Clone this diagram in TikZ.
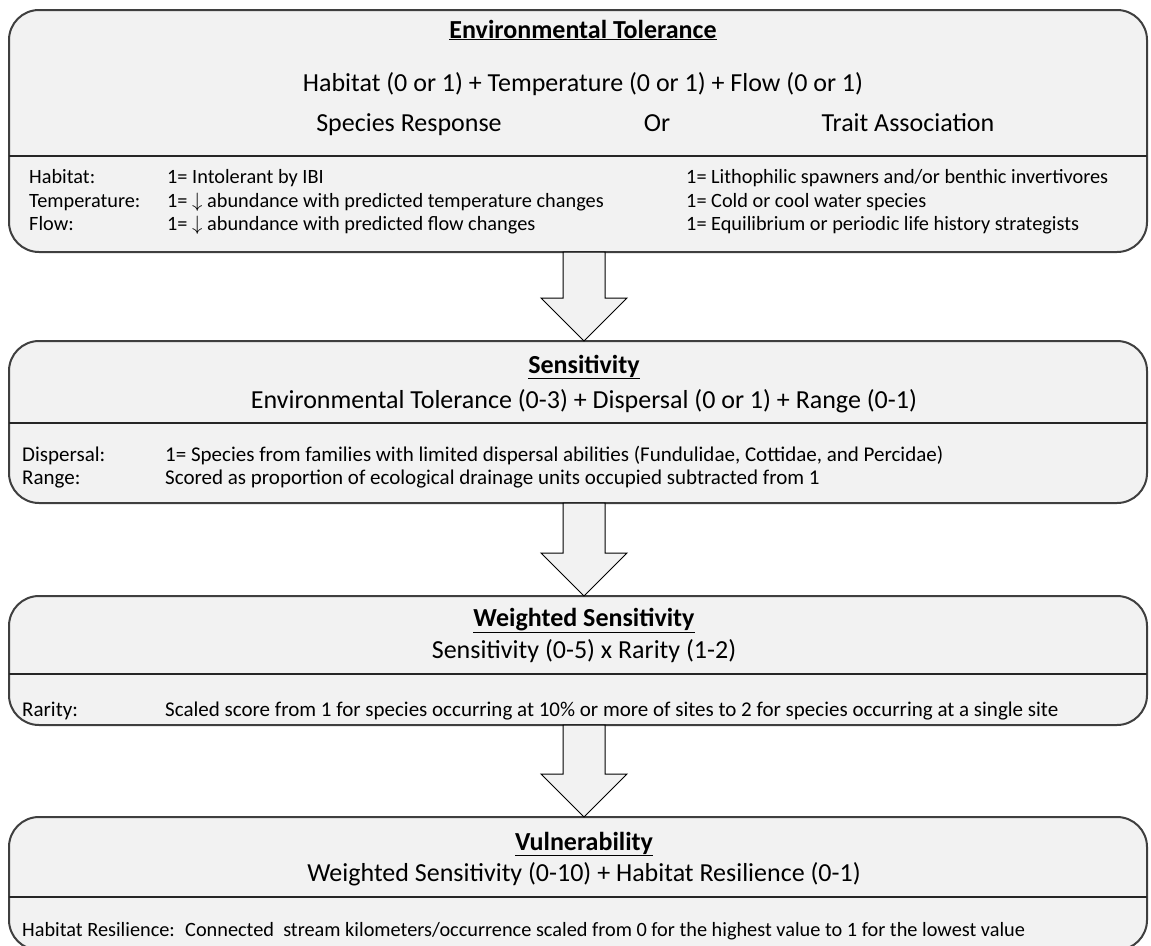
\documentclass[tikz,border=0pt]{standalone}
\usepackage{fontspec}
\setmainfont{Carlito}
\usepackage{tikz}
\definecolor{boxfill}{HTML}{F2F2F2}
\definecolor{boxline}{HTML}{3F3F3F}
\tikzstyle{stage}=[draw=boxline, line width=2pt, fill=boxfill, rounded corners=30pt,
                   inner sep=0, outer sep=0, minimum width=1138pt]
\tikzstyle{head}=[inner sep=0, anchor=base, font=\fontsize{26}{31}\selectfont]
\tikzstyle{body}=[inner sep=0, anchor=base west, font=\fontsize{20.3}{24}\selectfont]
\tikzstyle{widebody}=[body, font=\fontsize{21}{25}\selectfont]
\tikzstyle{divider}=[draw=black!85, line width=2pt]
\tikzstyle{flowarrow}=[draw=black, line width=1pt, fill=boxfill, line join=miter]
\newcommand{\boxtitle}[1]{\textbf{\underline{#1}}}

\begin{document}
\begin{tikzpicture}[x=1pt, y=-1pt]
    \useasboundingbox (0,0) rectangle (1151,945);
    \clip (0,0) rectangle (1151,945);
    % stages
    \node[stage, minimum height=242pt] (env) at (578,131) {};
    \node[stage, minimum height=162pt] (sens) at (578,422) {};
    \node[stage, minimum height=129pt] (wsens) at (578,660.5) {};
    \node[stage, minimum height=133pt] (vuln) at (578,883.5) {};
    \draw[divider] (env.west |- 0,156) -- (env.east |- 0,156);
    \draw[divider] (sens.west |- 0,423) -- (sens.east |- 0,423);
    \draw[divider] (wsens.west |- 0,674) -- (wsens.east |- 0,674);
    \draw[divider] (vuln.west |- 0,897) -- (vuln.east |- 0,897);
    % block arrows between stages
    \foreach \from/\to in {env/sens, sens/wsens, wsens/vuln}
        \draw[flowarrow] ([xshift=-15pt]\from.south) -- ([xshift=-15pt, yshift=43pt]\to.north)
            -- ([xshift=-37pt, yshift=43pt]\to.north) -- ([xshift=6pt]\to.north)
            -- ([xshift=49pt, yshift=43pt]\to.north) -- ([xshift=27pt, yshift=43pt]\to.north)
            -- ([xshift=27pt]\from.south) -- cycle;
    % environmental tolerance
    \node[head] (envtitle) at (583,38) {\boxtitle{Environmental Tolerance}};
    \node[head] (envsum) at (583,91) {Habitat (0 or 1) + Temperature (0 or 1) + Flow (0 or 1)};
    \node[head] (resp) at (409,131) {Species Response};
    \node[head] (or) at (657,131) {Or};
    \node[head] (trait) at (908,131) {Trait Association};
    \node[body] (habl) at (29,183) {Habitat:};
    \node[body] (templ) at (29,207) {Temperature:};
    \node[body] (flowl) at (29,230) {Flow:};
    \node[body] (habr) at (167,183) {1= Intolerant by IBI};
    \node[body] (tempr) at (167,207) {1= $\downarrow$ abundance with predicted temperature changes};
    \node[body] (flowr) at (167,230) {1= $\downarrow$ abundance with predicted flow changes};
    \node[body] (habt) at (686,183) {1= Lithophilic spawners and/or benthic invertivores};
    \node[body] (tempt) at (686,207) {1= Cold or cool water species};
    \node[body] (flowt) at (686,230) {1= Equilibrium or periodic life history strategists};
    % sensitivity
    \node[head] (senstitle) at (584,373) {\boxtitle{Sensitivity}};
    \node[head] (senssum) at (584,408) {Environmental Tolerance (0-3) + Dispersal (0 or 1) + Range (0-1)};
    \node[widebody] (displ) at (22,461) {Dispersal:};
    \node[widebody] (rangel) at (22,484) {Range:};
    \node[widebody] (dispr) at (165,461) {1= Species from families with limited dispersal abilities (Fundulidae, Cottidae, and Percidae)};
    \node[widebody] (ranger) at (165,484) {Scored as proportion of ecological drainage units occupied subtracted from 1};
    % weighted sensitivity
    \node[head] (wsenstitle) at (584,626) {\boxtitle{Weighted Sensitivity}};
    \node[head] (wsenssum) at (584,658) {Sensitivity (0-5) x Rarity (1-2)};
    \node[widebody] (rarl) at (22,716) {Rarity:};
    \node[widebody] (rarr) at (165,716) {Scaled score from 1 for species occurring at 10\% or more of sites to 2 for species occurring at a single site};
    % vulnerability
    \node[head] (vulntitle) at (584,850) {\boxtitle{Vulnerability}};
    \node[head] (vulnsum) at (584,881) {Weighted Sensitivity (0-10) + Habitat Resilience (0-1)};
    \node[body] (resl) at (22,936) {Habitat Resilience:};
    \node[body] (resr) at (185,936) {Connected\ \ stream kilometers/occurrence scaled from 0 for the highest value to 1 for the lowest value};
\end{tikzpicture}
\end{document}
